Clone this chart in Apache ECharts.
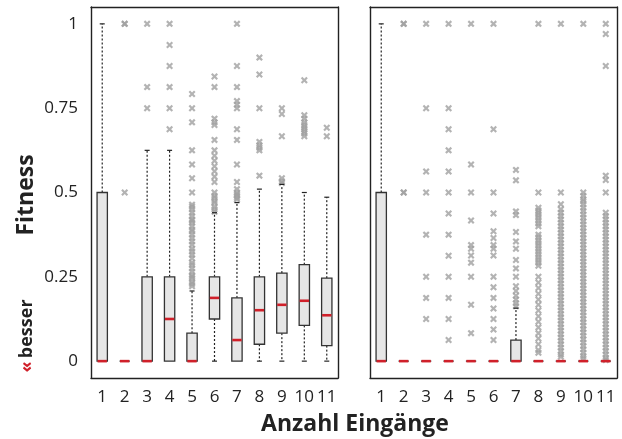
<!DOCTYPE html>
<html><head><meta charset="utf-8">
<script src="https://cdn.jsdelivr.net/npm/echarts@6/dist/echarts.min.js"></script>
<style>html,body{margin:0;padding:0;background:#fff}#c{width:622px;height:439px}</style>
</head><body><div id="c"></div>
<script>
const categories = ['1','2','3','4','5','6','7','8','9','10','11'];
const yTicks = [0, 0.25, 0.5, 0.75, 1];

// [lowWhisker, Q1, median, Q3, highWhisker]
const leftBoxes = [
  [0, 0, 0, 0.5, 1],
  [0, 0, 0, 0, 0],
  [0, 0, 0, 0.25, 0.625],
  [0, 0, 0.125, 0.25, 0.625],
  [0, 0, 0, 0.083, 0.208],
  [0, 0.125, 0.1875, 0.25, 0.44],
  [0, 0, 0.0625, 0.1875, 0.47],
  [0, 0.05, 0.151, 0.25, 0.51],
  [0, 0.083, 0.167, 0.261, 0.524],
  [0, 0.106, 0.179, 0.286, 0.5],
  [0, 0.046, 0.136, 0.246, 0.486]
];
const rightBoxes = [
  [0, 0, 0, 0.5, 1],
  [0, 0, 0, 0, 0],
  [0, 0, 0, 0, 0],
  [0, 0, 0, 0, 0],
  [0, 0, 0, 0, 0],
  [0, 0, 0, 0, 0],
  [0, 0, 0, 0.0625, 0.157],
  [0, 0, 0, 0, 0],
  [0, 0, 0, 0, 0],
  [0, 0, 0, 0, 0],
  [0, 0, 0, 0, 0]
];

const leftOutliers = [
  [],
  [1, 1, 0.5],
  [1, 0.8125, 0.75],
  [1, 0.9375, 0.875, 0.8125, 0.75, 0.6875],
  [0.792, 0.75, 0.708, 0.625, 0.583, 0.542, 0.5, 0.464, 0.458, 0.45, 0.44, 0.43, 0.42, 0.417, 0.41, 0.4, 0.39, 0.385, 0.375, 0.365, 0.355, 0.345, 0.333, 0.325, 0.315, 0.305, 0.292, 0.285, 0.275, 0.265, 0.255, 0.25, 0.245, 0.235, 0.229, 0.222],
  [0.844, 0.8125, 0.719, 0.708, 0.7, 0.656, 0.625, 0.609, 0.594, 0.578, 0.563, 0.547, 0.531, 0.5, 0.49, 0.484, 0.475, 0.469, 0.458, 0.45, 0.443],
  [1, 0.875, 0.8125, 0.771, 0.76, 0.75, 0.6875, 0.656, 0.583, 0.531, 0.51, 0.5, 0.495, 0.49, 0.484, 0.479],
  [0.9, 0.85, 0.75, 0.65, 0.64, 0.633, 0.625, 0.55],
  [0.75, 0.733, 0.667, 0.542, 0.533, 0.528],
  [0.833, 0.729, 0.719, 0.708, 0.7, 0.694, 0.688, 0.681, 0.675, 0.667],
  [0.692, 0.667]
];
const rightOutliers = [
  [],
  [1, 1, 0.5, 0.5],
  [1, 0.75, 0.5625, 0.5, 0.375, 0.25, 0.1875, 0.125],
  [1, 0.75, 0.6875, 0.625, 0.5625, 0.5, 0.4375, 0.375, 0.3125, 0.25, 0.1875, 0.125, 0.0625],
  [1, 0.583, 0.5, 0.417, 0.344, 0.333, 0.313, 0.292, 0.25, 0.167, 0.083],
  [1, 0.6875, 0.5, 0.4375, 0.385, 0.365, 0.344, 0.333, 0.313, 0.25, 0.219, 0.1875, 0.156, 0.125, 0.094, 0.0625],
  [0.567, 0.536, 0.444, 0.433, 0.383, 0.355, 0.333, 0.3, 0.275, 0.25, 0.222, 0.208, 0.194, 0.183, 0.172, 0.163],
  [1, 0.5, 0.455, 0.447, 0.44, 0.433, 0.425, 0.417, 0.408, 0.4, 0.375, 0.367, 0.358, 0.35, 0.342, 0.333, 0.325, 0.317, 0.308, 0.3, 0.292, 0.283, 0.25, 0.233, 0.217, 0.2, 0.183, 0.167, 0.15, 0.133, 0.117, 0.1, 0.083, 0.067, 0.05, 0.033, 0.025],
  [1, 0.5, 0.465, 0.45, 0.44, 0.43, 0.42, 0.41, 0.4, 0.39, 0.38, 0.37, 0.36, 0.35, 0.34, 0.33, 0.32, 0.31, 0.3, 0.29, 0.28, 0.27, 0.26, 0.25, 0.24, 0.23, 0.22, 0.21, 0.2, 0.19, 0.18, 0.17, 0.16, 0.15, 0.14, 0.13, 0.12, 0.11, 0.1, 0.09, 0.08, 0.07, 0.06, 0.05, 0.04, 0.03, 0.02, 0.013],
  [1, 0.5, 0.49, 0.48, 0.474, 0.465, 0.455, 0.445, 0.435, 0.425, 0.415, 0.405, 0.395, 0.385, 0.375, 0.365, 0.355, 0.345, 0.335, 0.325, 0.315, 0.305, 0.295, 0.285, 0.275, 0.265, 0.255, 0.245, 0.235, 0.225, 0.215, 0.205, 0.195, 0.185, 0.175, 0.165, 0.155, 0.145, 0.135, 0.125, 0.115, 0.105, 0.095, 0.085, 0.075, 0.065, 0.055, 0.045, 0.035, 0.025, 0.015, 0.008],
  [1, 0.97, 0.875, 0.55, 0.537, 0.5, 0.44, 0.43, 0.42, 0.41, 0.4, 0.39, 0.38, 0.37, 0.36, 0.35, 0.34, 0.33, 0.32, 0.31, 0.3, 0.29, 0.28, 0.27, 0.26, 0.25, 0.24, 0.23, 0.22, 0.21, 0.2, 0.19, 0.18, 0.17, 0.16, 0.15, 0.14, 0.13, 0.12, 0.11, 0.1, 0.09, 0.08, 0.07, 0.06, 0.05, 0.04, 0.03, 0.02, 0.01, 0.003]
];

const FONT = '"Open Sans", "Liberation Sans", sans-serif';
const RED = '#d0202a';
const XSYM = 'path://M0,2.2L2.2,0L5,2.8L7.8,0L10,2.2L7.2,5L10,7.8L7.8,10L5,7.2L2.2,10L0,7.8L2.8,5Z';

function boxData(boxes) { return boxes.map((b, i) => [i].concat(b)); }
function outlierData(out) {
  const d = [];
  out.forEach((arr, i) => arr.forEach(v => d.push([i, v])));
  return d;
}

function renderBox(params, api) {
  const i = api.value(0);
  const lo = api.value(1), q1 = api.value(2), med = api.value(3), q3 = api.value(4), hi = api.value(5);
  const c = v => api.coord([i, v]);
  const bw = api.size([1, 0])[0] * 0.46;
  const cx = c(med)[0];
  const yLo = c(lo)[1], yQ1 = c(q1)[1], yMed = c(med)[1], yQ3 = c(q3)[1], yHi = c(hi)[1];
  const dash = { stroke: '#222', lineWidth: 1.2, lineDash: [2, 2] };
  const solid = { stroke: '#222', lineWidth: 1.2 };
  const ch = [];
  if (hi > q3) {
    ch.push({ type: 'line', shape: { x1: cx, y1: yQ3, x2: cx, y2: yHi }, style: dash });
    ch.push({ type: 'line', shape: { x1: cx - 2.5, y1: yHi, x2: cx + 2.5, y2: yHi }, style: solid });
  }
  if (lo < q1) {
    ch.push({ type: 'line', shape: { x1: cx, y1: yQ1, x2: cx, y2: yLo }, style: dash });
    ch.push({ type: 'line', shape: { x1: cx - 2.5, y1: yLo, x2: cx + 2.5, y2: yLo }, style: solid });
  }
  ch.push({ type: 'rect', shape: { x: cx - bw / 2, y: yQ3, width: bw, height: yQ1 - yQ3 },
            style: { fill: '#e6e6e6', stroke: '#333', lineWidth: 1.3 } });
  ch.push({ type: 'line', shape: { x1: cx - bw / 2 + 0.5, y1: yMed, x2: cx + bw / 2 - 0.5, y2: yMed },
            style: { stroke: RED, lineWidth: 2.6 } });
  return { type: 'group', children: ch };
}

const axisLine = { show: true, onZero: false, lineStyle: { color: '#222', width: 1.4 } };
const tickStyle = { color: '#222', width: 1 };

function xAxes(gi) {
  return [
    { type: 'category', gridIndex: gi, position: 'bottom', data: categories,
      axisLine: axisLine,
      axisTick: { inside: true, length: 3, alignWithLabel: true, lineStyle: tickStyle },
      axisLabel: { fontSize: 17, color: '#222', fontFamily: FONT, margin: 11, interval: 0 },
      splitLine: { show: false } },
    { type: 'category', gridIndex: gi, position: 'top', data: categories,
      axisLine: axisLine,
      axisTick: { inside: true, length: 3, alignWithLabel: true, lineStyle: tickStyle },
      axisLabel: { show: false }, splitLine: { show: false } }
  ];
}
function yAxes(gi, labels) {
  const base = { type: 'value', gridIndex: gi, min: -0.05, max: 1.05,
    axisLine: axisLine, splitLine: { show: false } };
  return [
    Object.assign({}, base, { position: 'left',
      axisTick: { inside: true, length: 3, customValues: yTicks, lineStyle: tickStyle },
      axisLabel: labels ? { show: true, customValues: yTicks, fontSize: 17, color: '#222', fontFamily: FONT, margin: 13,
        formatter: v => String(v) } : { show: false } }),
    Object.assign({}, base, { position: 'right',
      axisTick: { inside: true, length: 3, customValues: yTicks, lineStyle: tickStyle },
      axisLabel: { show: false } })
  ];
}

const chart = echarts.init(document.getElementById('c'), null, { renderer: 'canvas' });
chart.setOption({
  animation: false,
  backgroundColor: '#fff',
  grid: [
    { left: 91, top: 7, width: 247, height: 371 },
    { left: 370, top: 7, width: 247, height: 371 }
  ],
  xAxis: xAxes(0).concat(xAxes(1)),
  yAxis: yAxes(0, true).concat(yAxes(1, false)),
  series: [
    { type: 'scatter', xAxisIndex: 0, yAxisIndex: 0, data: outlierData(leftOutliers),
      symbol: XSYM, symbolSize: 7, itemStyle: { color: '#a0a0a0' }, z: 1 },
    { type: 'custom', xAxisIndex: 0, yAxisIndex: 0, data: boxData(leftBoxes),
      encode: { x: 0, y: [1, 2, 3, 4, 5] }, renderItem: renderBox, z: 2 },
    { type: 'scatter', xAxisIndex: 2, yAxisIndex: 2, data: outlierData(rightOutliers),
      symbol: XSYM, symbolSize: 7, itemStyle: { color: '#a0a0a0' }, z: 1 },
    { type: 'custom', xAxisIndex: 2, yAxisIndex: 2, data: boxData(rightBoxes),
      encode: { x: 0, y: [1, 2, 3, 4, 5] }, renderItem: renderBox, z: 2 }
  ],
  graphic: [
    { type: 'text', x: 26, y: 195, rotation: Math.PI / 2,
      style: { text: 'Fitness', font: 'bold 23px "Open Sans"', fill: '#222', textAlign: 'center', textVerticalAlign: 'middle' } },
    { type: 'text', x: 27, y: 336, rotation: Math.PI / 2,
      style: { text: '{r|«} {b|besser}', textAlign: 'center', textVerticalAlign: 'middle',
        rich: { r: { fill: RED, font: 'bold 18px "Open Sans"' }, b: { fill: '#222', font: 'bold 18px "Open Sans"' } } } },
    { type: 'text', x: 355, y: 424,
      style: { text: 'Anzahl Eingänge', font: 'bold 23px "Open Sans"', fill: '#222', textAlign: 'center', textVerticalAlign: 'middle' } }
  ]
});
</script>
</body></html>
